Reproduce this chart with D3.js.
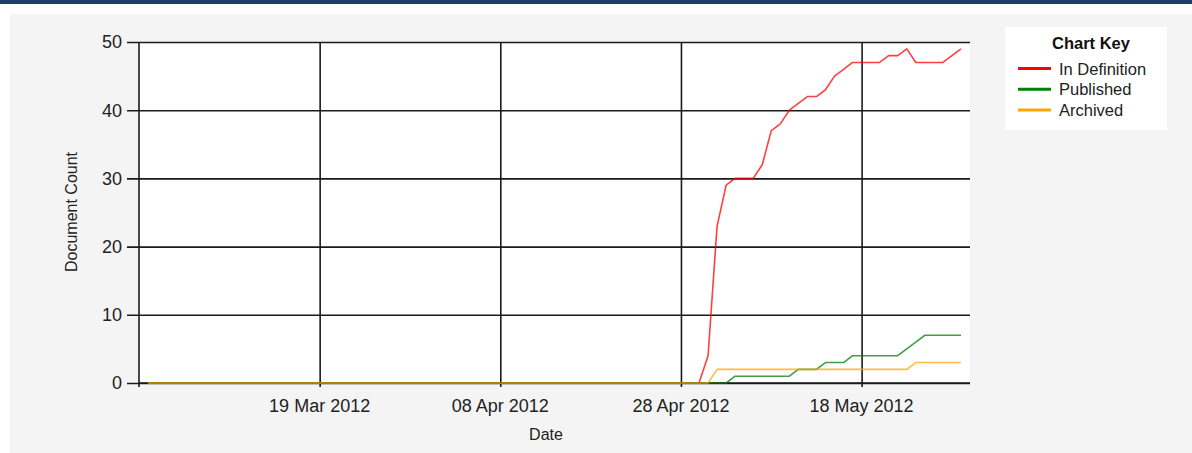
<!DOCTYPE html>
<html>
<head>
<meta charset="utf-8">
<script src="https://cdn.jsdelivr.net/npm/d3@7"></script>
<style>
  html, body { margin: 0; padding: 0; background: #ffffff; }
  svg { display: block; }
  text { font-family: "Liberation Sans", Arial, sans-serif; }
</style>
</head>
<body>
<svg id="chart" width="1192" height="453"></svg>
<script>
// ---- data ----
const dates = [
  "2012-02-29",
  "2012-04-30", "2012-05-01", "2012-05-02", "2012-05-03", "2012-05-04",
  "2012-05-05", "2012-05-06", "2012-05-07", "2012-05-08", "2012-05-09",
  "2012-05-10", "2012-05-11", "2012-05-12", "2012-05-13", "2012-05-14",
  "2012-05-15", "2012-05-16", "2012-05-17", "2012-05-18", "2012-05-19",
  "2012-05-20", "2012-05-21", "2012-05-22", "2012-05-23", "2012-05-24",
  "2012-05-25", "2012-05-26", "2012-05-27", "2012-05-28", "2012-05-29"
];
const inDefinition = [0, 0, 4, 23, 29, 30, 30, 30, 32, 37, 38, 40, 41, 42, 42, 43, 45, 46, 47, 47, 47, 47, 48, 48, 49, 47, 47, 47, 47, 48, 49];
const published    = [0, 0, 0, 0, 0, 1, 1, 1, 1, 1, 1, 1, 2, 2, 2, 3, 3, 3, 4, 4, 4, 4, 4, 4, 5, 6, 7, 7, 7, 7, 7];
const archived     = [0, 0, 0, 2, 2, 2, 2, 2, 2, 2, 2, 2, 2, 2, 2, 2, 2, 2, 2, 2, 2, 2, 2, 2, 2, 3, 3, 3, 3, 3, 3];
const seriesNames = ["In Definition", "Published", "Archived"];
const seriesColors = ["#ff0000", "#008000", "#ffa500"];
const xDomain = ["2012-02-28", "2012-05-30"];
const xTickDates = ["2012-03-19", "2012-04-08", "2012-04-28", "2012-05-18"];
const yTicks = [0, 10, 20, 30, 40, 50];
const xTitle = "Date";
const yTitle = "Document Count";
const legendTitle = "Chart Key";

// ---- layout ----
const svg = d3.select("#chart");
const W = 1192, H = 453;
const plot = { left: 139, right: 970, top: 42, bottom: 383 };
const parse = d3.timeParse("%Y-%m-%d");
const fmt = d3.timeFormat("%d %b %Y");

// top bar and panel
svg.append("rect").attr("x", 0).attr("y", 0).attr("width", W).attr("height", 4).attr("fill", "#1d3b6c");
svg.append("rect").attr("x", 10).attr("y", 14).attr("width", W - 10).attr("height", H - 14).attr("fill", "#f4f4f4");
svg.append("rect").attr("x", plot.left).attr("y", plot.top)
  .attr("width", plot.right - plot.left).attr("height", plot.bottom - plot.top).attr("fill", "#ffffff");

const x = d3.scaleTime().domain(xDomain.map(parse)).range([plot.left, plot.right]);
const y = d3.scaleLinear().domain([0, 50]).range([plot.bottom, plot.top]);

const gridColor = "#1a1a1a";

// horizontal gridlines via y axis
const yAxis = d3.axisLeft(y).tickValues(yTicks).tickSize(-(plot.right - plot.left)).tickPadding(0).tickFormat("");
const gy = svg.append("g").attr("transform", `translate(${plot.left},0)`).call(yAxis);
gy.select(".domain").remove();
gy.selectAll(".tick line").attr("stroke", gridColor).attr("stroke-width", 1.6)
  .attr("x1", -12);
// y labels
svg.append("g").selectAll("text").data(yTicks).join("text")
  .attr("x", 122).attr("y", d => y(d)).attr("dy", "0.35em")
  .attr("text-anchor", "end").attr("font-size", 18).attr("fill", "#222")
  .text(d => d);

// vertical gridlines via x axis
const xAxis = d3.axisBottom(x).tickValues(xTickDates.map(parse)).tickSize(-(plot.bottom - plot.top)).tickFormat("");
const gx = svg.append("g").attr("transform", `translate(0,${plot.bottom})`).call(xAxis);
gx.select(".domain").remove();
gx.selectAll(".tick line").attr("stroke", gridColor).attr("stroke-width", 1.6).attr("y1", 4);
// x labels
svg.append("g").selectAll("text").data(xTickDates.map(parse)).join("text")
  .attr("x", d => x(d)).attr("y", 412)
  .attr("text-anchor", "middle").attr("font-size", 18).attr("fill", "#222")
  .text(d => fmt(d));

// axis lines
svg.append("line").attr("x1", plot.left).attr("x2", plot.left).attr("y1", plot.top).attr("y2", plot.bottom + 4)
  .attr("stroke", gridColor).attr("stroke-width", 1.6);
svg.append("line").attr("x1", plot.left).attr("x2", plot.right).attr("y1", plot.bottom).attr("y2", plot.bottom)
  .attr("stroke", gridColor).attr("stroke-width", 1.6);

// axis titles
svg.append("text").attr("x", 546).attr("y", 440).attr("text-anchor", "middle")
  .attr("font-size", 16).attr("fill", "#222").text(xTitle);
svg.append("text").attr("transform", "translate(77,212) rotate(-90)").attr("text-anchor", "middle")
  .attr("font-size", 16).attr("fill", "#222").text(yTitle);

// lines
const allSeries = [inDefinition, published, archived];
const line = d3.line().x((d, i) => x(parse(dates[i]))).y(d => y(d));
allSeries.forEach((vals, k) => {
  svg.append("path").datum(vals).attr("d", line)
    .attr("fill", "none").attr("stroke", seriesColors[k])
    .attr("stroke-width", 1.6).attr("stroke-opacity", 0.75)
    .attr("stroke-linejoin", "round");
});

// legend
const lg = svg.append("g");
lg.append("rect").attr("x", 1005).attr("y", 27).attr("width", 162).attr("height", 103).attr("fill", "#ffffff");
lg.append("text").attr("x", 1091).attr("y", 49).attr("text-anchor", "middle")
  .attr("font-size", 16.5).attr("font-weight", "bold").attr("fill", "#111").text(legendTitle);
seriesNames.forEach((name, i) => {
  const ly = 68.5 + i * 20.7;
  lg.append("line").attr("x1", 1018).attr("x2", 1051).attr("y1", ly).attr("y2", ly)
    .attr("stroke", seriesColors[i]).attr("stroke-width", 3);
  lg.append("text").attr("x", 1059).attr("y", ly + 6).attr("font-size", 16.5).attr("fill", "#222").text(name);
});
</script>
</body>
</html>
